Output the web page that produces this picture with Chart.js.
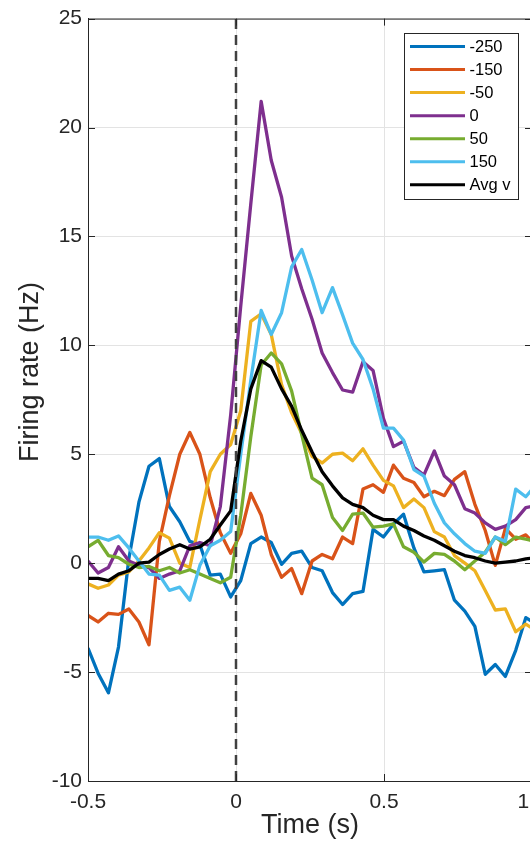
<!DOCTYPE html>
<html>
<head>
<meta charset="utf-8">
<script src="https://cdn.jsdelivr.net/npm/chart.js@4.4.1/dist/chart.umd.min.js"></script>
<style>
  html, body { margin: 0; padding: 0; background: #fff; overflow: hidden; }
  #wrap { width: 560px; height: 844px; }
</style>
</head>
<body>
<div id="wrap"><canvas id="psth"></canvas></div>
<script>
// time bins (s)
const timeS = [
  -0.500, -0.466, -0.431, -0.397, -0.362, -0.328, -0.294, -0.259, -0.225, -0.190,
  -0.156, -0.122, -0.087, -0.053, -0.018, 0.016, 0.050, 0.085, 0.119, 0.154,
  0.188, 0.222, 0.257, 0.291, 0.326, 0.360, 0.394, 0.429, 0.463, 0.498,
  0.532, 0.566, 0.601, 0.635, 0.670, 0.704, 0.738, 0.773, 0.807, 0.842,
  0.876, 0.910, 0.945, 0.979, 1.014
]

const seriesLabels = ['-250', '-150', '-50', '0', '50', '150', 'Avg v']
const seriesColors = ['#0072BD', '#D95319', '#EDB120', '#7E2F8E', '#77AC30', '#4DBEEE', '#000000']

// firing rate (Hz) per condition
const rateM250 = [
  -3.9, -5.05, -5.95, -3.85, 0.2, 2.8, 4.45, 4.8, 2.6, 1.9,
  1.0, 0.85, -0.55, -0.5, -1.55, -0.8, 0.9, 1.2, 0.95, -0.05,
  0.45, 0.55, -0.2, -0.35, -1.35, -1.9, -1.4, -1.3, 1.55, 1.2,
  1.8, 2.25, 0.7, -0.4, -0.35, -0.3, -1.7, -2.2, -2.9, -5.1,
  -4.65, -5.2, -4.0, -2.5, -2.8
]
const rateM150 = [
  -2.4, -2.7, -2.3, -2.35, -2.1, -2.7, -3.75, 1.0, 3.1, 5.0,
  6.0, 5.0, 3.0, 1.4, 0.45, 1.35, 3.2, 2.2, 0.4, -0.65,
  -0.25, -1.4, 0.1, 0.4, 0.2, 1.2, 0.9, 3.4, 3.6, 3.25,
  4.5, 3.9, 3.7, 3.05, 3.3, 3.1, 3.85, 4.2, 2.7, 1.5,
  -0.1, 1.6, 1.1, 1.3, 0.8
]
const rateM50 = [
  -0.95, -1.15, -1.0, -0.55, -0.4, 0.1, 0.7, 1.4, 1.15, 0.0,
  -0.2, 2.0, 4.2, 5.0, 5.45, 7.0, 11.1, 11.45, 10.5, 8.2,
  6.9, 5.95, 4.9, 4.6, 5.0, 5.05, 4.7, 5.25, 4.5, 3.8,
  3.55, 2.55, 2.95, 2.55, 1.45, 1.2, 0.35, 0.0, -0.35, -1.25,
  -2.15, -2.1, -3.15, -2.8, -3.1
]
const rate0 = [
  0.1, -0.45, -0.2, 0.75, 0.1, -0.1, -0.2, -0.7, -0.5, -0.35,
  0.8, 0.95, 0.8, 2.6, 6.8, 11.8, 16.5, 21.2, 18.5, 16.8,
  14.1, 12.6, 11.2, 9.65, 8.75, 7.95, 7.85, 9.25, 8.85, 6.65,
  5.35, 5.6, 4.4, 4.05, 5.15, 4.0, 3.6, 2.5, 2.3, 1.85,
  1.55, 1.7, 2.0, 2.55, 2.65
]
const rateP50 = [
  0.75, 1.05, 0.35, 0.25, -0.05, -0.2, -0.15, -0.35, -0.2, -0.45,
  -0.3, -0.5, -0.7, -0.9, -0.65, 2.2, 5.8, 9.1, 9.65, 9.15,
  7.9, 5.9, 3.9, 3.6, 2.1, 1.5, 2.25, 2.3, 1.65, 1.7,
  1.8, 0.75, 0.5, 0.05, 0.45, 0.4, 0.1, -0.3, 0.1, 0.5,
  1.2, 0.85, 1.2, 1.1, 1.0
]
const rateP150 = [
  1.2, 1.2, 1.05, 1.25, 0.7, 0.1, -0.5, -0.55, -1.25, -1.1,
  -1.7, -0.1, 0.8, 1.05, 1.45, 5.0, 8.4, 11.6, 10.5, 11.5,
  13.6, 14.4, 13.0, 11.5, 12.65, 11.4, 10.1, 9.35, 8.0, 6.2,
  6.2, 5.65, 4.3, 4.0, 2.75, 1.85, 1.35, 0.9, 0.55, 0.45,
  1.2, 1.0, 3.4, 3.05, 3.6
]
const rateAvg = [
  -0.7, -0.7, -0.8, -0.5, -0.35, 0.0, 0.05, 0.4, 0.65, 0.85,
  0.65, 0.75, 1.1, 1.75, 2.4, 5.6, 8.0, 9.3, 9.0, 8.0,
  7.2, 6.1, 5.1, 4.2, 3.55, 3.0, 2.7, 2.55, 2.2, 2.0,
  2.0, 1.7, 1.5, 1.25, 1.05, 0.8, 0.55, 0.35, 0.25, 0.1,
  0.0, 0.05, 0.1, 0.2, 0.25
]

const allRates = [rateM250, rateM150, rateM50, rate0, rateP50, rateP150, rateAvg]

const xTickValues = [-0.5, 0, 0.5, 1]
const yTickValues = [-10, -5, 0, 5, 10, 15, 20, 25]
const stimOnset = 0

const FONT = '"Liberation Sans", Arial, Helvetica, sans-serif'
const AXIS_COLOR = '#262626'
Chart.defaults.font.family = FONT
Chart.defaults.color = AXIS_COLOR

let datasets = allRates.map((vals, i) => ({
  label: seriesLabels[i],
  data: timeS.map((t, j) => ({x: t, y: vals[j]})),
  borderColor: seriesColors[i],
  backgroundColor: seriesColors[i],
  borderWidth: 3.3,
  borderJoinStyle: 'round',
  pointRadius: 0,
  tension: 0,
  inLegend: true,
  order: allRates.length - i
}))

// dashed line at stimulus onset
datasets.push({
  label: 'onset',
  data: [{x: stimOnset, y: yTickValues[0]}, {x: stimOnset, y: yTickValues[yTickValues.length - 1]}],
  borderColor: '#404040',
  borderWidth: 2.5,
  borderDash: [10, 6],
  pointRadius: 0,
  inLegend: false,
  order: 0
})

// box around the axes + inward tick marks, MATLAB style
const boxTicks = {
  id: 'boxTicks',
  afterDraw(chart) {
    const {ctx, chartArea: ca, scales} = chart
    ctx.save()
    ctx.strokeStyle = AXIS_COLOR
    ctx.lineWidth = 1
    ctx.strokeRect(ca.left + 0.5, ca.top + 0.5, ca.right - ca.left, ca.bottom - ca.top)
    ctx.beginPath()
    xTickValues.forEach(v => {
      const px = Math.round(scales.x.getPixelForValue(v)) + 0.5
      ctx.moveTo(px, ca.bottom); ctx.lineTo(px, ca.bottom - 7)
      ctx.moveTo(px, ca.top); ctx.lineTo(px, ca.top + 7)
    })
    yTickValues.forEach(v => {
      const py = Math.round(scales.y.getPixelForValue(v)) + 0.5
      ctx.moveTo(ca.left, py); ctx.lineTo(ca.left + 7, py)
      ctx.moveTo(ca.right, py); ctx.lineTo(ca.right - 7, py)
    })
    ctx.stroke()
    ctx.restore()
  }
}

// y label, placed where the figure has it
const yLabel = {
  id: 'yLabel',
  afterDraw(chart) {
    const ctx = chart.ctx
    ctx.save()
    ctx.translate(31, 372)
    ctx.rotate(-Math.PI / 2)
    ctx.font = '27px ' + FONT
    ctx.fillStyle = AXIS_COLOR
    ctx.textAlign = 'center'
    ctx.textBaseline = 'middle'
    ctx.fillText('Firing rate (Hz)', 0, 0)
    ctx.restore()
  }
}

// boxed legend in the top right corner
const boxLegend = {
  id: 'boxLegend',
  afterDraw(chart) {
    const {ctx, chartArea: ca} = chart
    const items = chart.data.datasets.filter(d => d.inLegend)
    const w = 114, h = 166
    const left = Math.round(ca.right - 14.5 - w) + 0.5
    const top = Math.round(ca.top + 14.5) + 0.5
    ctx.save()
    ctx.fillStyle = '#ffffff'
    ctx.fillRect(left, top, w, h)
    ctx.strokeStyle = AXIS_COLOR
    ctx.lineWidth = 1
    ctx.strokeRect(left, top, w, h)
    ctx.font = '16.5px ' + FONT
    ctx.textBaseline = 'middle'
    items.forEach((d, i) => {
      const y = top + 13 + i * 23.05
      ctx.strokeStyle = d.borderColor
      ctx.lineWidth = 3
      ctx.beginPath()
      ctx.moveTo(left + 5.5, y)
      ctx.lineTo(left + 60.5, y)
      ctx.stroke()
      ctx.fillStyle = '#000000'
      ctx.fillText(d.label, left + 65, y + 1)
    })
    ctx.restore()
  }
}

const config = {
  type: 'line',
  data: { datasets: datasets },
  options: {
    responsive: true,
    maintainAspectRatio: false,
    animation: false,
    layout: { padding: { top: 15, right: 28, left: 0, bottom: 0 } },
    plugins: {
      legend: { display: false },
      tooltip: { enabled: false }
    },
    scales: {
      x: {
        type: 'linear',
        min: -0.5,
        max: 1,
        afterBuildTicks: s => { s.ticks = xTickValues.map(v => ({value: v})) },
        afterFit: s => { s.height = 63 },
        grid: { color: '#e3e3e3', lineWidth: 1, drawTicks: false },
        border: { color: AXIS_COLOR, width: 1 },
        ticks: { color: AXIS_COLOR, font: { size: 21 }, padding: 9, maxRotation: 0, autoSkip: false },
        title: { display: true, text: 'Time (s)', color: AXIS_COLOR, font: { size: 27 }, padding: { top: 0, bottom: 2 } }
      },
      y: {
        type: 'linear',
        min: -10,
        max: 25,
        afterBuildTicks: s => { s.ticks = yTickValues.map(v => ({value: v})) },
        afterFit: s => { s.width = 88 },
        grid: { color: '#e3e3e3', lineWidth: 1, drawTicks: false },
        border: { color: AXIS_COLOR, width: 1 },
        ticks: { color: AXIS_COLOR, font: { size: 21 }, padding: 6 }
      }
    }
  },
  plugins: [boxTicks, yLabel, boxLegend]
}

new Chart(document.getElementById('psth'), config)
</script>
</body>
</html>
